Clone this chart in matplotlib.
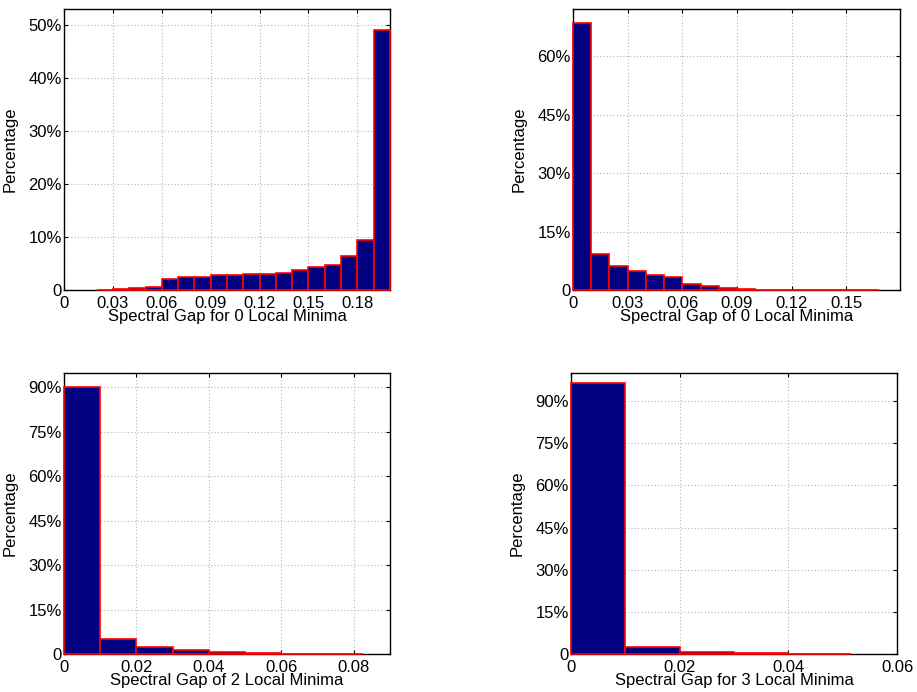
import numpy as np
import matplotlib.pyplot as plt
from matplotlib.ticker import FuncFormatter

plt.rcParams["font.family"] = ["Liberation Sans", "DejaVu Sans"]
plt.rcParams["font.size"] = 12

# percentage of samples per spectral-gap bin (last edge = largest gap seen)
edges_0a = [0.02, 0.03, 0.04, 0.05, 0.06, 0.07, 0.08, 0.09, 0.10, 0.11,
            0.12, 0.13, 0.14, 0.15, 0.16, 0.17, 0.18, 0.19, 0.20]
pct_0a = [0.05, 0.1, 0.3, 0.6, 2.0, 2.4, 2.5, 2.8, 2.8,
          3.0, 3.1, 3.3, 3.7, 4.3, 4.8, 6.4, 9.5, 49.1]

edges_0b = [0.0, 0.01, 0.02, 0.03, 0.04, 0.05, 0.06, 0.07, 0.08, 0.09,
            0.10, 0.11, 0.12, 0.13, 0.14, 0.15, 0.16, 0.168]
pct_0b = [68.7, 9.25, 6.2, 4.8, 3.9, 3.4, 1.5, 0.9, 0.4,
          0.2, 0.08, 0.05, 0.04, 0.03, 0.02, 0.02, 0.01]

edges_2 = [0.0, 0.01, 0.02, 0.03, 0.04, 0.05, 0.06, 0.07, 0.08, 0.0826]
pct_2 = [90.0, 5.2, 2.5, 1.35, 0.6, 0.2, 0.1, 0.05, 0.02]

edges_3 = [0.0, 0.01, 0.02, 0.03, 0.04, 0.05, 0.0515]
pct_3 = [96.5, 2.5, 0.7, 0.3, 0.1, 0.02]

panels = [
    (edges_0a, pct_0a, "Spectral Gap for 0 Local Minima",
     np.arange(0, 0.181, 0.03), (0, 0.2), np.arange(0, 51, 10), 53),
    (edges_0b, pct_0b, "Spectral Gap of 0 Local Minima",
     np.arange(0, 0.151, 0.03), (0, 0.1794), np.arange(0, 61, 15), 72.2),
    (edges_2, pct_2, "Spectral Gap of 2 Local Minima",
     np.arange(0, 0.081, 0.02), (0, 0.09), np.arange(0, 91, 15), 94.8),
    (edges_3, pct_3, "Spectral Gap for 3 Local Minima",
     np.arange(0, 0.061, 0.02), (0, 0.06), np.arange(0, 91, 15), 100),
]

# axes boxes in pixels: left, right, top, bottom
boxes = [(64, 390, 9, 290), (573, 900, 9, 290),
         (64, 390, 373, 654), (571, 897, 373, 654)]

W, H = 917, 692
fig = plt.figure(figsize=(W / 100, H / 100), dpi=100)

for (edges, pct, xlabel, xticks, xlim, yticks, ytop), (l, r, t, b) in zip(panels, boxes):
    ax = fig.add_axes([l / W, 1 - b / H, (r - l) / W, (b - t) / H])
    edges = np.asarray(edges)
    # bars sit above the spines, unclipped, so empty bins still show their red outline
    bars = ax.bar(edges[:-1], pct, width=np.diff(edges), align="edge",
                  color="#000080", edgecolor="red", linewidth=1.2, zorder=3)
    for p in bars.patches:
        p.set_clip_on(False)

    ax.set_xlim(*xlim)
    ax.set_ylim(0, ytop)
    ax.set_xticks(xticks)
    ax.set_xticklabels(["0" if v == 0 else f"{v:.2f}" for v in xticks])
    ax.set_yticks(yticks)
    ax.yaxis.set_major_formatter(FuncFormatter(lambda v, _: "0" if v == 0 else f"{v:g}%"))

    ax.grid(True, linestyle=(0, (1, 2)), color="#b4b4b4", linewidth=0.8, zorder=0)
    ax.set_axisbelow(True)
    ax.tick_params(direction="in", length=3, width=0.8, top=True, right=True)
    ax.tick_params(axis="x", pad=4)
    ax.tick_params(axis="y", pad=1.5)
    for s in ax.spines.values():
        s.set_linewidth(1.0)
        s.set_zorder(2.5)

    ax.set_xlabel(xlabel)
    ax.xaxis.set_label_coords(0.5, -0.066)
    ax.set_ylabel("Percentage")
    ax.yaxis.set_label_coords(-0.141, 0.5)

plt.savefig("out.png", dpi=100, facecolor="white")
